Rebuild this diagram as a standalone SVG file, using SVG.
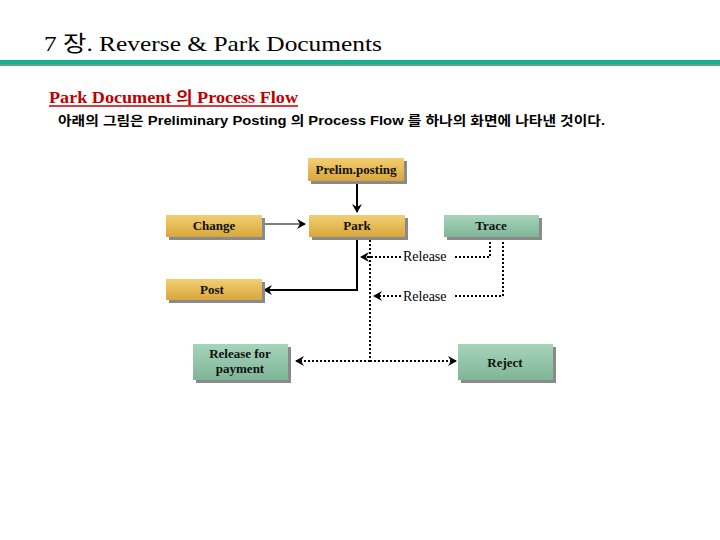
<svg xmlns="http://www.w3.org/2000/svg" width="720" height="540" viewBox="0 0 720 540">
<defs>
<linearGradient id="gold" x1="0" y1="0" x2="0" y2="1"><stop offset="0" stop-color="#f2cf72"/><stop offset="1" stop-color="#d9a63c"/></linearGradient>
<linearGradient id="green" x1="0" y1="0" x2="0" y2="1"><stop offset="0" stop-color="#a6d4bb"/><stop offset="1" stop-color="#7fb597"/></linearGradient>
<marker id="ah" markerWidth="10" markerHeight="10" refX="8" refY="5" orient="auto" markerUnits="userSpaceOnUse"><path d="M0,0 L9,5 L0,10 L3,5 Z" fill="#000"/></marker>
</defs>
<style>
.sh{fill:#8a8a8a}
.g{fill:url(#gold)}
.gr{fill:url(#green)}
.t{font-family:"Liberation Serif",serif;font-size:13px;font-weight:bold;text-anchor:middle;fill:#111}
.lbl{font-family:"Liberation Serif",serif;font-size:14px;fill:#000}
.solid{stroke:#000;fill:none}
.dot{stroke:#000;fill:none;stroke-width:2;stroke-dasharray:2 2}
</style>
<rect width="720" height="540" fill="#fff"/>
<text x="44" y="51" font-family="'Liberation Serif','Noto Sans CJK KR',serif" font-size="22" textLength="338" lengthAdjust="spacingAndGlyphs">7 장. Reverse &amp; Park Documents</text>
<rect x="0" y="60" width="720" height="4" fill="#19b08f"/>
<rect x="0" y="64" width="720" height="2" fill="#5aa88a"/>
<text x="49" y="103" font-family="'Liberation Serif','Noto Sans CJK KR',serif" font-size="16" font-weight="bold" fill="#c00000" textLength="249" lengthAdjust="spacingAndGlyphs">Park Document 의 Process Flow</text>
<line x1="49" y1="106" x2="298" y2="106" stroke="#c00000" stroke-width="1.5"/>
<text x="58" y="125" font-family="'Liberation Sans','Noto Sans CJK KR',sans-serif" font-size="13" font-weight="bold" fill="#000" textLength="547" lengthAdjust="spacingAndGlyphs">아래의 그림은 Preliminary Posting 의 Process Flow 를 하나의 화면에 나타낸 것이다.</text>

<g id="connectors">
<line class="solid" x1="357" y1="182" x2="357" y2="212" stroke-width="2" marker-end="url(#ah)"/>
<line class="solid" x1="263" y1="224" x2="305" y2="224" stroke-width="1.2" marker-end="url(#ah)"/>
<polyline class="solid" points="357,238 357,290 264,290" stroke-width="2" marker-end="url(#ah)"/>
<polyline class="dot" points="490,238 490,257 453,257"/>
<line class="dot" x1="401" y1="257" x2="361" y2="257" marker-end="url(#ah)"/>
<polyline class="dot" points="503,238 503,296 453,296"/>
<line class="dot" x1="401" y1="296" x2="374" y2="296" marker-end="url(#ah)"/>
<line class="dot" x1="370" y1="240" x2="370" y2="361"/>
<line class="dot" x1="370" y1="361" x2="296" y2="361" marker-end="url(#ah)"/>
<line class="dot" x1="370" y1="361" x2="456" y2="361" marker-end="url(#ah)"/>
<text class="lbl" x="403" y="261">Release</text>
<text class="lbl" x="403" y="301">Release</text>
</g>

<g id="prelim"><rect class="sh" x="311" y="161" width="96" height="23"/><rect class="g" x="308" y="158" width="96" height="23"/><text class="t" x="356" y="174">Prelim.posting</text></g>
<g id="change"><rect class="sh" x="169" y="218" width="96" height="22"/><rect class="g" x="166" y="215" width="96" height="22"/><text class="t" x="214" y="230">Change</text></g>
<g id="park"><rect class="sh" x="312" y="218" width="96" height="22"/><rect class="g" x="309" y="215" width="96" height="22"/><text class="t" x="357" y="230">Park</text></g>
<g id="trace"><rect class="sh" x="447" y="218" width="95" height="22"/><rect class="gr" x="444" y="215" width="95" height="22"/><text class="t" x="491" y="230">Trace</text></g>
<g id="post"><rect class="sh" x="169" y="282" width="96" height="21"/><rect class="g" x="166" y="279" width="96" height="21"/><text class="t" x="212" y="294">Post</text></g>
<g id="releasepay"><rect class="sh" x="196" y="347" width="95" height="36"/><rect class="gr" x="193" y="344" width="95" height="36"/><text class="t" x="240" y="358">Release for</text><text class="t" x="240" y="373">payment</text></g>
<g id="reject"><rect class="sh" x="461" y="347" width="95" height="36"/><rect class="gr" x="458" y="344" width="95" height="36"/><text class="t" x="505" y="367">Reject</text></g>
</svg>
